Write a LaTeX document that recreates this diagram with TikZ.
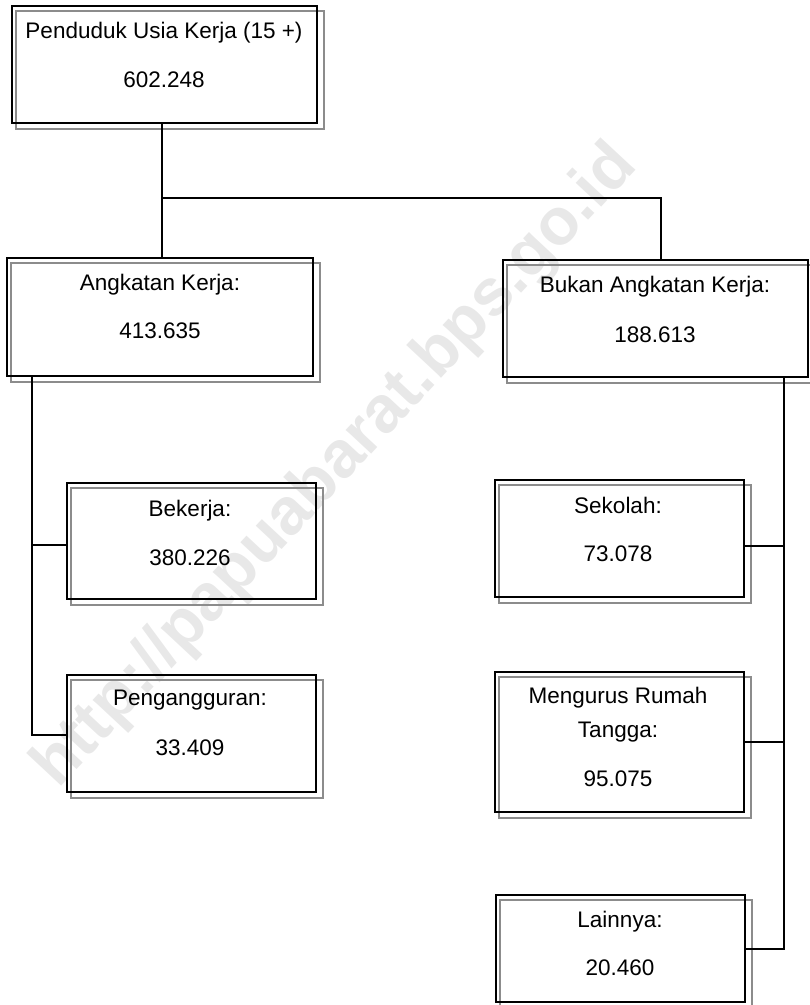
\documentclass[tikz,border=0pt]{standalone}
\usepackage{fontspec}
\setmainfont{Liberation Sans}
\newcommand{\lbfont}{\fontsize{22.5bp}{27bp}\selectfont}
\newcommand{\wmfont}{\fontsize{66bp}{70bp}\selectfont\bfseries}
\tikzset{
  boxst/.style={draw=black, line width=2.6bp, rectangle, inner sep=0pt},
  shadowst/.style={draw=black!45, line width=1.8bp},
  conn/.style={draw=black, line width=1.6bp},
  lbl/.style={font=\lbfont, anchor=base, inner sep=0pt},
  wmark/.style={font=\wmfont, text=black!9, rotate=47, inner sep=0pt}
}
\newcommand{\drawbox}[5]{%
  \draw[shadowst] (#2+4,#3+5) rectangle (#4+7,#5+6);
  \node[boxst, minimum width={(#4-#2)*1bp}, minimum height={(#5-#3)*1bp}] (#1) at ({(#2+#4)/2},{(#3+#5)/2}) {};
}
\begin{document}
\begin{tikzpicture}[x=1bp,y=-1bp]
\useasboundingbox (0,0) rectangle (810,1005);
\node[wmark] (wm) at (336,467) {http://papuabarat.bps.go.id};

\drawbox{pend}{12}{6}{317}{123}
\drawbox{ak}{7}{258}{313}{376}
\drawbox{bak}{503}{260}{808}{377}
\drawbox{bek}{67}{483}{316}{599}
\drawbox{peng}{67}{675}{316}{792}
\drawbox{sek}{495}{480}{744}{597}
\drawbox{mrt}{495}{672}{744}{812}
\drawbox{lain}{496}{895}{745}{1002}

% labels
\node[lbl] (t1a) at (164,38) {Penduduk Usia Kerja (15 +)};
\node[lbl] (t1b) at (164,87) {602.248};
\node[lbl] (t2a) at (160,290) {Angkatan Kerja:};
\node[lbl] (t2b) at (160,338) {413.635};
\node[lbl] (t3a) at (655,292) {Bukan Angkatan Kerja:};
\node[lbl] (t3b) at (655,342) {188.613};
\node[lbl] (t4a) at (190,516) {Bekerja:};
\node[lbl] (t4b) at (190,565) {380.226};
\node[lbl] (t5a) at (190,705) {Pengangguran:};
\node[lbl] (t5b) at (190,755) {33.409};
\node[lbl] (t6a) at (618,513) {Sekolah:};
\node[lbl] (t6b) at (618,561) {73.078};
\node[lbl] (t7a) at (618,703) {Mengurus Rumah};
\node[lbl] (t7b) at (618,737) {Tangga:};
\node[lbl] (t7c) at (618,786) {95.075};
\node[lbl] (t8a) at (620,927) {Lainnya:};
\node[lbl] (t8b) at (620,975) {20.460};

% connectors
\coordinate (j1) at (162,198);
\coordinate (j2) at (661,198);
\draw[conn] (j1 |- pend.south) -- (j1) -- (j2) -- (j2 |- bak.north);
\draw[conn] (j1) -- (j1 |- ak.north);

\coordinate (l1) at (32,545);
\coordinate (l2) at (32,735);
\draw[conn] (l1 |- ak.south) -- (l2) -- (l2 -| peng.west);
\draw[conn] (l1) -- (l1 -| bek.west);

\coordinate (r1) at (784,546);
\coordinate (r2) at (784,742);
\coordinate (r3) at (784,949);
\draw[conn] (r1 |- bak.south) -- (r3) -- (r3 -| lain.east);
\draw[conn] (r1) -- (r1 -| sek.east);
\draw[conn] (r2) -- (r2 -| mrt.east);
\end{tikzpicture}
\end{document}
